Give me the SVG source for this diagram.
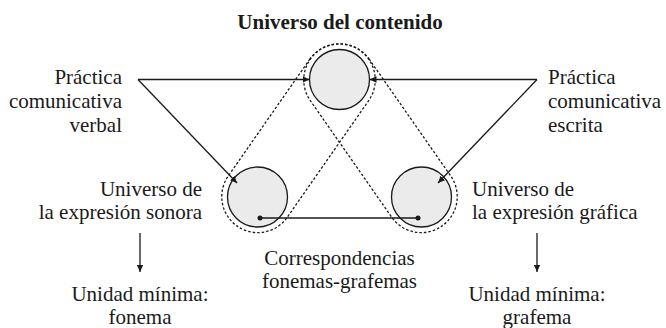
<svg xmlns="http://www.w3.org/2000/svg" width="666" height="328" viewBox="0 0 666 328">
<style>
text{font-family:"Liberation Serif","Times New Roman",serif;font-size:21px;fill:#1a1a1a}
.t{font-weight:bold}
.r{text-anchor:end}
.m{text-anchor:middle}
.c{fill:#ebebeb;stroke:#1a1a1a;stroke-width:1.3}
.d{fill:none;stroke:#1a1a1a;stroke-width:1.3;stroke-dasharray:2.5 2}
.l{fill:none;stroke:#1a1a1a;stroke-width:1.3}
</style>
<defs>
<marker id="ah" viewBox="0 0 10 10" refX="10" refY="5" markerWidth="7" markerHeight="7" markerUnits="userSpaceOnUse" orient="auto">
<path d="M0,0.5 L10,5 L0,9.5 z" fill="#1a1a1a"/>
</marker>
</defs>
<g id="title"><text class="t m" x="340" y="29">Universo del contenido</text></g>
<g id="capsules">
<path class="d" d="M309.98 58.90 L227.98 176.40 A36 36 0 0 0 287.02 217.60 L369.02 100.10 A36 36 0 0 0 309.98 58.90 Z"/>
<path class="d" d="M369.02 58.90 L451.02 176.40 A36 36 0 0 1 391.98 217.60 L309.98 100.10 A36 36 0 0 1 369.02 58.90 Z"/>
</g>
<g id="contenido"><circle class="c" cx="339.5" cy="79.5" r="30"/></g>
<g id="sonora"><circle class="c" cx="257.5" cy="197" r="30"/>
<text class="r" x="202" y="196">Universo de</text>
<text class="r" x="202" y="219">la expresión sonora</text></g>
<g id="grafica"><circle class="c" cx="421.5" cy="197" r="30"/>
<text x="472" y="196">Universo de</text>
<text x="472" y="219">la expresión gráfica</text></g>
<g id="verbal"><text class="r" x="122" y="84">Práctica</text>
<text class="r" x="122" y="108">comunicativa</text>
<text class="r" x="122" y="132">verbal</text></g>
<g id="escrita"><text x="548" y="84">Práctica</text>
<text x="548" y="108">comunicativa</text>
<text x="548" y="132">escrita</text></g>
<g id="fonema"><text class="m" x="140" y="301">Unidad mínima:</text>
<text class="m" x="140" y="324">fonema</text></g>
<g id="grafema"><text class="m" x="537" y="301">Unidad mínima:</text>
<text class="m" x="537" y="324">grafema</text></g>
<g id="correspondencias"><text class="m" x="339.5" y="265">Correspondencias</text>
<text class="m" x="339.5" y="288">fonemas-grafemas</text></g>
<g id="connectors">
<path class="l" d="M138 79.5 H309.5" marker-end="url(#ah)"/>
<path class="l" d="M138 79.5 L237 183" marker-end="url(#ah)"/>
<path class="l" d="M537 79.5 H369.5" marker-end="url(#ah)"/>
<path class="l" d="M537 79.5 L438 183" marker-end="url(#ah)"/>
<path class="l" d="M140 233 V272" marker-end="url(#ah)"/>
<path class="l" d="M537 233 V272" marker-end="url(#ah)"/>
<path class="l" d="M260 218 H418"/>
<circle cx="260" cy="218" r="2.5" fill="#1a1a1a"/>
<circle cx="418" cy="218" r="2.5" fill="#1a1a1a"/>
</g>
</svg>
